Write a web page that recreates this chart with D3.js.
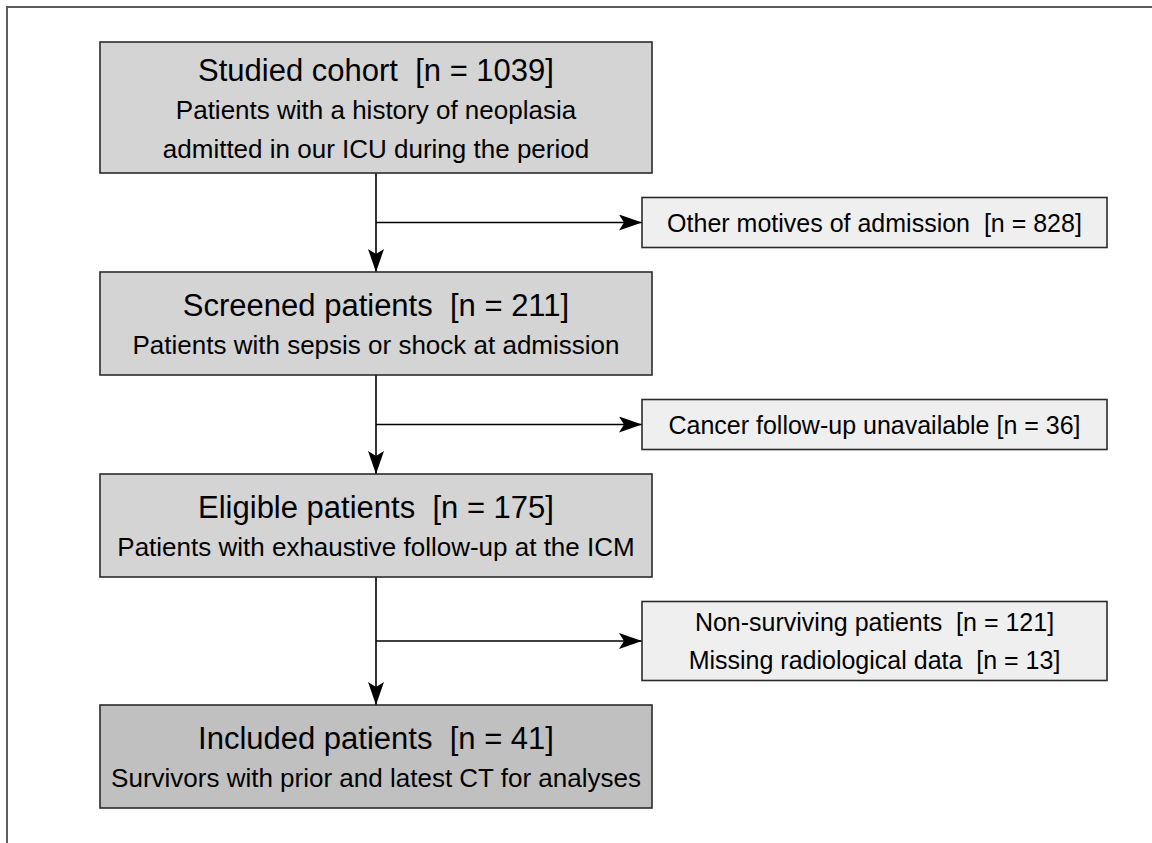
<!DOCTYPE html>
<html>
<head>
<meta charset="utf-8">
<script src="https://cdn.jsdelivr.net/npm/d3@7"></script>
<style>
  body { margin: 0; background: #fff; }
  svg text { font-family: "Liberation Sans", Arial, Helvetica, sans-serif; white-space: pre; fill: #000; }
</style>
</head>
<body>
<svg id="chart"></svg>
<script>
// flow stages (main column)
const stageNames = ["Studied cohort", "Screened patients", "Eligible patients", "Included patients"]
const stageCounts = [1039, 211, 175, 41]
const stageNotes = [
    ["Patients with a history of neoplasia", "admitted in our ICU during the period"],
    ["Patients with sepsis or shock at admission"],
    ["Patients with exhaustive follow-up at the ICM"],
    ["Survivors with prior and latest CT for analyses"]
]
// exclusions between stages (side boxes)
const exclusionLabels = [
    ["Other motives of admission  "],
    ["Cancer follow-up unavailable "],
    ["Non-surviving patients  ", "Missing radiological data  "]
]
const exclusionCounts = [[828], [36], [121, 13]]

const width = 1152, height = 843
const svg = d3.select("#chart").attr("width", width).attr("height", height)

// outer frame, runs off the right and bottom edges
svg.append("rect")
    .attr("x", 7).attr("y", 7)
    .attr("width", width + 20).attr("height", height + 20)
    .attr("fill", "none").attr("stroke", "#5c5c5c").attr("stroke-width", 2)

const mainX = 100, mainW = 552
const sideX = 642, sideW = 465
const centerX = mainX + mainW / 2
const lineGap = 38.5

// compute layout from number of text lines
const sideHeights = exclusionLabels.map(l => 21 + 29 * l.length)
const mainHeights = stageNotes.map(n => 75 + 28 * n.length)
let tops = []
let y = 42
stageNames.forEach((s, i) => {
    tops.push(y)
    if (i < sideHeights.length) y += mainHeights[i] + sideHeights[i] + 49
})

// arrowhead marker
const defs = svg.append("defs")
defs.append("marker")
    .attr("id", "head")
    .attr("viewBox", "0 -8 23 16")
    .attr("refX", 23).attr("refY", 0)
    .attr("markerWidth", 23).attr("markerHeight", 16)
    .attr("markerUnits", "userSpaceOnUse")
    .attr("orient", "auto")
    .append("path")
    .attr("d", "M0,-8L23,0L0,8L5,0Z")
    .attr("fill", "#000")

// connectors
const links = svg.append("g")
stageNames.slice(1).forEach((s, i) => {
    const y0 = tops[i] + mainHeights[i]
    const y1 = tops[i + 1]
    const midY = (y0 + y1) / 2
    links.append("line")
        .attr("x1", centerX).attr("x2", centerX)
        .attr("y1", y0).attr("y2", y1)
        .attr("stroke", "#000").attr("stroke-width", 1.6)
        .attr("marker-end", "url(#head)")
    links.append("line")
        .attr("x1", centerX).attr("x2", sideX)
        .attr("y1", midY).attr("y2", midY)
        .attr("stroke", "#000").attr("stroke-width", 1.6)
        .attr("marker-end", "url(#head)")
})

// main boxes
const stages = svg.append("g").selectAll("g").data(stageNames).enter().append("g")
stages.append("rect")
    .attr("x", mainX)
    .attr("y", (d, i) => tops[i])
    .attr("width", mainW)
    .attr("height", (d, i) => mainHeights[i])
    .attr("fill", (d, i) => i == stageNames.length - 1 ? "#c0c0c0" : "#d4d4d4")
    .attr("stroke", "#2b2b2b").attr("stroke-width", 1.6)
stages.each(function (d, i) {
    const lines = [`${d}  [n = ${stageCounts[i]}]`].concat(stageNotes[i])
    const cy = tops[i] + mainHeights[i] / 2
    d3.select(this).selectAll("text").data(lines).enter().append("text")
        .attr("x", centerX)
        .attr("y", (t, j) => cy + 11.5 + (j - (lines.length - 1) / 2) * lineGap)
        .attr("text-anchor", "middle")
        .attr("font-size", (t, j) => j == 0 ? 31 : 26)
        .text(t => t)
})

// exclusion boxes
const sides = svg.append("g").selectAll("g").data(exclusionLabels).enter().append("g")
sides.append("rect")
    .attr("x", sideX)
    .attr("y", (d, i) => (tops[i] + mainHeights[i] + tops[i + 1]) / 2 - sideHeights[i] / 2)
    .attr("width", sideW)
    .attr("height", (d, i) => sideHeights[i])
    .attr("fill", "#efefef")
    .attr("stroke", "#2b2b2b").attr("stroke-width", 1.6)
sides.each(function (d, i) {
    const lines = d.map((l, j) => `${l}[n = ${exclusionCounts[i][j]}]`)
    const cy = (tops[i] + mainHeights[i] + tops[i + 1]) / 2
    d3.select(this).selectAll("text").data(lines).enter().append("text")
        .attr("x", sideX + sideW / 2)
        .attr("y", (t, j) => cy + 9 + (j - (lines.length - 1) / 2) * 38)
        .attr("text-anchor", "middle")
        .attr("font-size", 25)
        .text(t => t)
})
</script>
</body>
</html>
